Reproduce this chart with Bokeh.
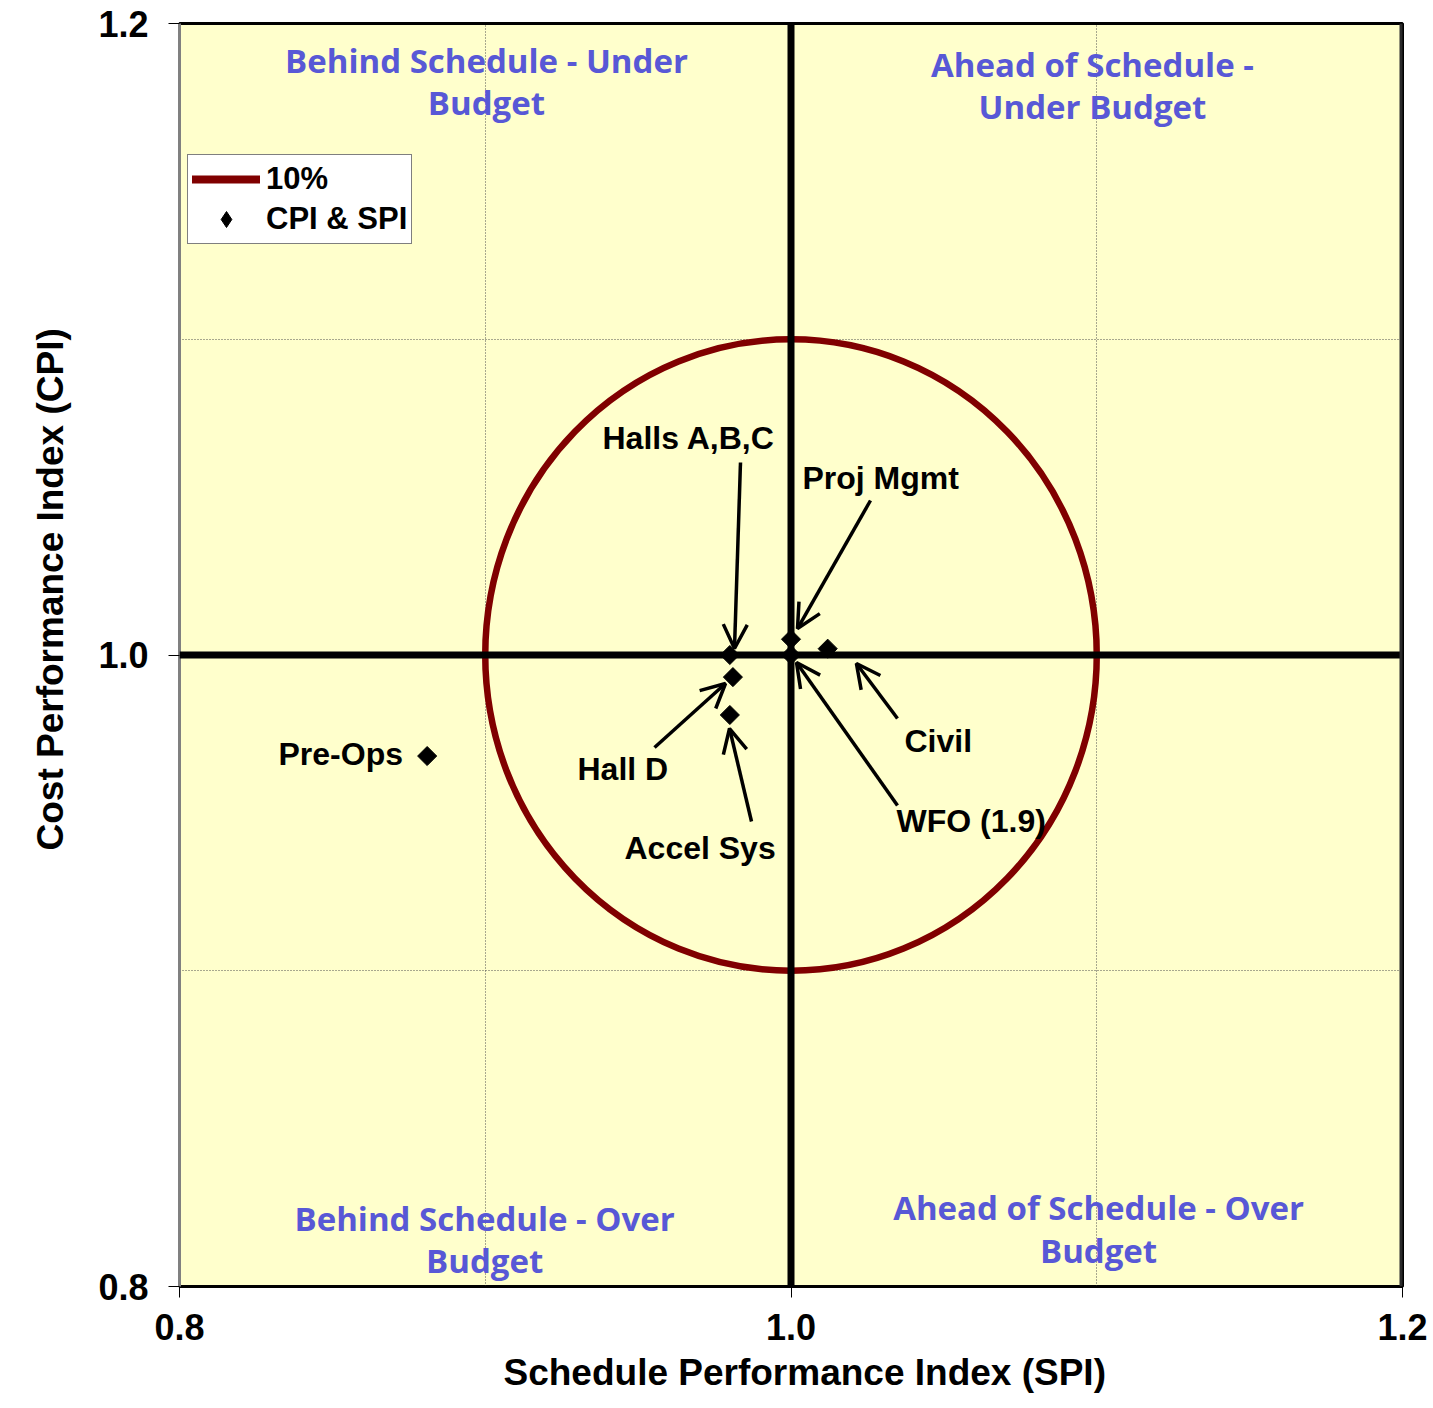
import math
from bokeh.plotting import figure
from bokeh.models import (Span, Label, Arrow, OpenHead, Legend, LegendItem, Title,
                          FixedTicker, Range1d, ColumnDataSource)
from bokeh.embed import file_html
from bokeh.resources import INLINE

# ---------------- data ----------------
names = ["Halls A,B,C", "Hall D", "Accel Sys", "Proj Mgmt", "Civil", "WFO (1.9)", "Pre-Ops"]
spi = [0.980, 0.981, 0.980, 1.000, 1.012, 1.000, 0.881]
cpi = [1.000, 0.993, 0.981, 1.005, 1.002, 1.000, 0.968]

tolerance = 0.10          # the "10%" circle radius around (1, 1)
x_ticks = [0.8, 1.0, 1.2]
y_ticks = [0.8, 1.0, 1.2]
grid_ticks = [0.9, 1.1]

quadrant_texts = ["Behind Schedule - Under\nBudget", "Ahead of Schedule -\nUnder Budget",
                  "Behind Schedule - Over\nBudget", "Ahead of Schedule - Over\nBudget"]

# annotation positions (data units)
quad_pos = [(0.9004, 1.1816), (1.0986, 1.1804), (0.8998, 0.8149), (1.1006, 0.8181)]
label_pos = [(0.93835, 1.06857), (0.93017, 0.96405), (0.94554, 0.93872), (1.00376, 1.05590),
             (1.03712, 0.97261), (1.03451, 0.94727), (0.83238, 0.96849)]
arrow_pos = [((0.98348, 1.06097), (0.98152, 1.00206)),
             ((0.95536, 0.97071), (0.97858, 0.99097)),
             ((0.98708, 0.94727), (0.97989, 0.97672)),
             ((1.02600, 1.04893), (1.00213, 1.00839)),
             ((1.03483, 0.97989), (1.02139, 0.99731)),
             ((1.03483, 0.95234), (1.00180, 0.99763)),
             None]

FONT = "Liberation Sans"
NAN = float("nan")

p = figure(frame_width=1223, frame_height=1263,
           x_range=Range1d(0.8, 1.2), y_range=Range1d(0.8, 1.2),
           output_backend="svg", toolbar_location=None,
           min_border_left=179, min_border_right=28, min_border_top=23, min_border_bottom=0,
           background_fill_color="#FFFFCC", border_fill_color="white")

p.outline_line_color = "black"
p.outline_line_width = 3

# axes
for ax, ticks in ((p.xaxis, x_ticks), (p.yaxis, y_ticks)):
    ax.ticker = FixedTicker(ticks=ticks)
    ax.major_label_overrides = {t: f"{t:.1f}" for t in ticks}
    ax.major_label_text_font = FONT
    ax.major_label_text_font_style = "bold"
    ax.major_label_text_font_size = "36px"
    ax.major_label_text_color = "black"
    ax.major_tick_out = 11
    ax.major_tick_in = 0
    ax.major_tick_line_color = "black"
    ax.minor_tick_line_color = None
p.xaxis.major_label_standoff = 16
p.yaxis.major_label_standoff = 20
p.xaxis.axis_line_color = "black"
p.xaxis.axis_line_width = 2
p.yaxis.axis_line_color = "#808080"
p.yaxis.axis_line_width = 3

# axis titles
p.add_layout(Title(text="Schedule Performance Index (SPI)", align="left", offset=324,
                   vertical_align="bottom", standoff=14, text_font=FONT, text_font_style="bold",
                   text_font_size="37px", text_color="black"), "below")
p.add_layout(Title(text="Cost Performance Index (CPI)", align="left", offset=436,
                   vertical_align="middle", standoff=48, text_font=FONT, text_font_style="bold",
                   text_font_size="37px", text_color="black"), "left")

# grid
for g in (p.xgrid, p.ygrid):
    g.ticker = FixedTicker(ticks=grid_ticks)
    g.grid_line_color = "#505050"
    g.grid_line_width = 1
    g.grid_line_dash = "1 2"

# heavy center lines
p.add_layout(Span(location=1.0, dimension="width", line_color="black", line_width=7))
p.add_layout(Span(location=1.0, dimension="height", line_color="black", line_width=7))
# heavy right edge of the frame
p.add_layout(Span(location=1.2, dimension="height", line_color="#2a2a2a", line_width=6))

# tolerance circle
p.ellipse(x=[1.0], y=[1.0], width=[2 * tolerance], height=[2 * tolerance],
          fill_alpha=0, line_color="#800000", line_width=6.5)
legend_line = p.line(x=[NAN], y=[NAN], line_color="#800000", line_width=8, line_cap="round")

# points
src = ColumnDataSource(dict(x=spi, y=cpi, name=names))
p.scatter("x", "y", source=src, marker="square", size=13.5, angle=math.pi / 4,
          fill_color="black", line_color="black")
legend_pts = p.scatter(x=[NAN], y=[NAN], marker="diamond", size=22,
                       fill_color="black", line_color="black")

# arrows
for a in arrow_pos:
    if a is None:
        continue
    (xs, ys), (xe, ye) = a
    p.add_layout(Arrow(end=OpenHead(size=24, line_width=3.5, line_color="black"),
                       x_start=xs, y_start=ys, x_end=xe, y_end=ye,
                       line_width=3.5, line_color="black"))

# point labels
for name, (lx, ly) in zip(names, label_pos):
    p.add_layout(Label(x=lx, y=ly, text=name, text_align="left", text_baseline="middle",
                       text_font=FONT, text_font_style="bold", text_font_size="32px",
                       text_color="black"))

# quadrant labels
for txt, (qx, qy) in zip(quadrant_texts, quad_pos):
    p.add_layout(Label(x=qx, y=qy, text=txt, text_align="center", text_baseline="middle",
                       text_font="Open Sans", text_font_style="bold", text_font_size="33px",
                       text_color="#5858D6", text_line_height=0.95))

# legend
legend = Legend(items=[LegendItem(label="10%", renderers=[legend_line]),
                       LegendItem(label="CPI & SPI", renderers=[legend_pts])],
                location=(8, 1042), orientation="vertical",
                glyph_width=68, glyph_height=40, label_height=40, spacing=0, padding=4,
                label_standoff=6, label_text_font=FONT, label_text_font_style="bold",
                label_text_font_size="31px", label_text_color="black",
                border_line_color="black", border_line_width=1,
                background_fill_color="white", background_fill_alpha=1.0)
p.add_layout(legend, "center")

open("out.html", "w").write(file_html(p, INLINE))
